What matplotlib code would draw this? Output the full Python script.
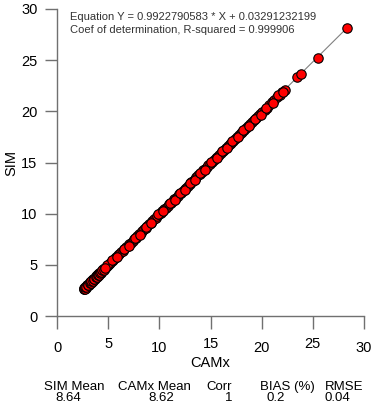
import matplotlib
matplotlib.use("Agg")
import matplotlib.pyplot as plt
import matplotlib.transforms as mtrans
import numpy as np

plt.rcParams['font.family'] = ['Liberation Sans', 'DejaVu Sans']

camx = [2.62, 2.68, 2.71, 2.75, 2.79, 2.83, 2.86, 2.90, 2.94, 2.97, 3.01, 3.05, 3.08, 3.12,
        3.16, 3.20, 3.23, 3.27, 3.31, 3.35, 3.38, 3.42, 3.46, 3.50, 3.55, 3.59, 3.63, 3.68,
        3.72, 3.77, 3.81, 3.86, 3.90, 3.95, 4.00, 4.05, 4.10, 4.16, 4.21, 4.27, 4.33, 4.39,
        4.45, 4.52, 4.58, 4.65, 4.72, 4.80, 4.88, 4.96, 5.05, 5.20, 5.34, 5.50, 5.63, 5.80,
        5.95, 6.10, 6.27, 6.41, 6.58, 6.72, 6.90, 7.05, 7.21, 7.38, 7.52, 7.70, 7.86, 8.01,
        8.18, 8.33, 8.50, 8.67, 8.82, 9.00, 9.16, 9.31, 9.49, 9.65, 9.80, 9.98, 10.14, 10.30,
        10.47, 10.63, 10.80, 10.96, 11.12, 11.30, 11.45, 11.62, 11.80, 11.95, 12.12, 12.30,
        12.46, 12.62, 12.80, 12.97, 13.12, 13.30, 13.47, 13.62, 13.80, 13.98, 14.13, 14.30,
        14.48, 14.64, 14.80, 14.98, 15.15, 15.30, 15.50, 15.66, 15.82, 16.00, 16.18, 16.35,
        16.52, 16.70, 16.88, 17.05, 17.22, 17.40, 17.58, 17.75, 17.95, 18.12, 18.30, 18.50,
        18.70, 18.88, 19.05, 19.25, 19.45, 19.65, 19.85, 20.05, 20.30, 20.50, 20.75, 21.00,
        21.25, 21.50, 21.75, 22.00, 22.25, 23.50, 23.80, 25.48, 28.34,
        2.65, 2.80, 2.95, 3.10, 3.25, 3.40, 3.55, 3.70, 3.85, 4.00, 4.15, 4.30, 4.50, 4.70,
        4.90, 5.40, 5.90, 6.50, 7.00, 7.60, 8.10, 8.70, 9.20, 9.90, 10.40, 11.00, 11.50,
        12.00, 12.50, 13.00, 13.50, 14.00, 14.50, 15.00, 15.60, 16.10, 16.60, 17.10, 17.70,
        18.20, 18.80, 19.30, 19.90, 20.40, 21.10, 21.60, 22.10,
        2.70, 2.78, 2.88, 2.99, 3.07, 3.18, 3.29, 3.37, 3.48, 3.58, 3.66, 3.79, 3.88, 3.98,
        4.08, 4.19, 4.31, 4.43, 4.55, 4.68]
sim = [2.63, 2.70, 2.71, 2.77, 2.80, 2.84, 2.88, 2.91, 2.95, 2.99, 3.02, 3.06, 3.10, 3.13,
       3.17, 3.21, 3.25, 3.28, 3.32, 3.36, 3.40, 3.43, 3.47, 3.51, 3.56, 3.60, 3.64, 3.69,
       3.73, 3.78, 3.82, 3.87, 3.91, 3.96, 4.00, 4.06, 4.10, 4.17, 4.21, 4.28, 4.33, 4.40,
       4.45, 4.52, 4.59, 4.65, 4.72, 4.80, 4.88, 4.96, 5.04, 5.19, 5.33, 5.49, 5.62, 5.78,
       5.94, 6.08, 6.25, 6.39, 6.56, 6.70, 6.88, 7.03, 7.18, 7.36, 7.50, 7.67, 7.83, 7.98,
       8.15, 8.30, 8.47, 8.63, 8.79, 8.96, 9.12, 9.27, 9.45, 9.61, 9.76, 9.94, 10.10, 10.26,
       10.42, 10.58, 10.75, 10.91, 11.07, 11.25, 11.39, 11.57, 11.74, 11.89, 12.06, 12.24,
       12.40, 12.55, 12.74, 12.90, 13.05, 13.23, 13.40, 13.55, 13.73, 13.90, 14.06, 14.22,
       14.40, 14.56, 14.72, 14.89, 15.07, 15.21, 15.41, 15.57, 15.73, 15.91, 16.09, 16.25,
       16.42, 16.60, 16.78, 16.95, 17.12, 17.30, 17.48, 17.64, 17.84, 18.01, 18.19, 18.39,
       18.58, 18.77, 18.94, 19.13, 19.33, 19.53, 19.73, 19.93, 20.17, 20.37, 20.62, 20.87,
       21.12, 21.37, 21.61, 21.86, 22.11, 23.35, 23.65, 25.25, 28.15,
       2.60, 2.74, 3.01, 3.04, 3.31, 3.35, 3.61, 3.65, 3.91, 3.95, 4.21, 4.25, 4.55, 4.65,
       4.95, 5.45, 5.78, 6.55, 6.86, 7.66, 7.95, 8.74, 9.05, 9.95, 10.25, 11.05, 11.33,
       12.04, 12.33, 13.02, 13.32, 14.02, 14.30, 15.02, 15.40, 16.10, 16.40, 17.10, 17.48,
       18.15, 18.55, 19.25, 19.65, 20.36, 20.85, 21.55, 21.85,
       2.66, 2.82, 2.85, 3.03, 3.04, 3.22, 3.26, 3.41, 3.45, 3.62, 3.63, 3.83, 3.85, 4.02,
       4.05, 4.23, 4.27, 4.46, 4.52, 4.71]

slope = 0.9922790583
intercept = 0.03291232199
r_squared = 0.999906

stat_headers = ["SIM Mean", "CAMx Mean", "Corr", "BIAS (%)", "RMSE"]
stat_values = ["8.64", "8.62", "1", "0.2", "0.04"]

ticks = [0, 5, 10, 15, 20, 25, 30]

fig = plt.figure(figsize=(3.85, 4.08), dpi=100)
ax = fig.add_axes([57/385, 1 - 316/408, (364-57)/385, (316-9)/408])

xl = np.array([min(camx), max(camx)])
ax.plot(xl, slope * xl + intercept, color='#808080', lw=0.8, zorder=1)
ax.scatter(camx, sim, s=46, facecolor='#ff0000', edgecolor='black', linewidths=0.8, zorder=2)

ax.set_xlim(0, 30)
ax.set_ylim(0, 30)
ax.set_xticks(ticks)
ax.set_yticks(ticks)
ax.spines['top'].set_visible(False)
ax.spines['right'].set_visible(False)
for s in ('left', 'bottom'):
    ax.spines[s].set_color('#707070')
    ax.spines[s].set_linewidth(1.0)
ax.tick_params(direction='out', length=9, width=1.0, color='#707070', labelsize=10.5,
               labelcolor='black', pad=5)
ax.tick_params(axis='x', pad=9)

# staggered x tick labels (5, 15, 25 slightly raised)
for t, lab in zip(ticks, ax.get_xticklabels()):
    if t in (5, 15, 25):
        lab.set_transform(lab.get_transform() + mtrans.ScaledTranslation(0, 4/100, fig.dpi_scale_trans))

ax.set_xlabel("CAMx", fontsize=10.5, labelpad=1)
ax.set_ylabel("SIM", fontsize=10.5, labelpad=2)

ax.text(70/385, 1 - 17/408, f"Equation Y = {slope} * X + {intercept}", transform=fig.transFigure,
        fontsize=8.0, color='#333333', va='center', ha='left')
ax.text(70/385, 1 - 30/408, f"Coef of determination, R-squared = {r_squared}", transform=fig.transFigure,
        fontsize=8.0, color='#333333', va='center', ha='left')

hx = [74, 154, 219, 287, 344]
vx = [68, 161, 229, 276, 337]
for h, v, x1, x2 in zip(stat_headers, stat_values, hx, vx):
    fig.text(x1/385, 1 - 387/408, h, ha='center', va='center', fontsize=9.5)
    fig.text(x2/385, 1 - 398/408, v, ha='center', va='center', fontsize=9.5)

fig.savefig("out.png", dpi=100)
